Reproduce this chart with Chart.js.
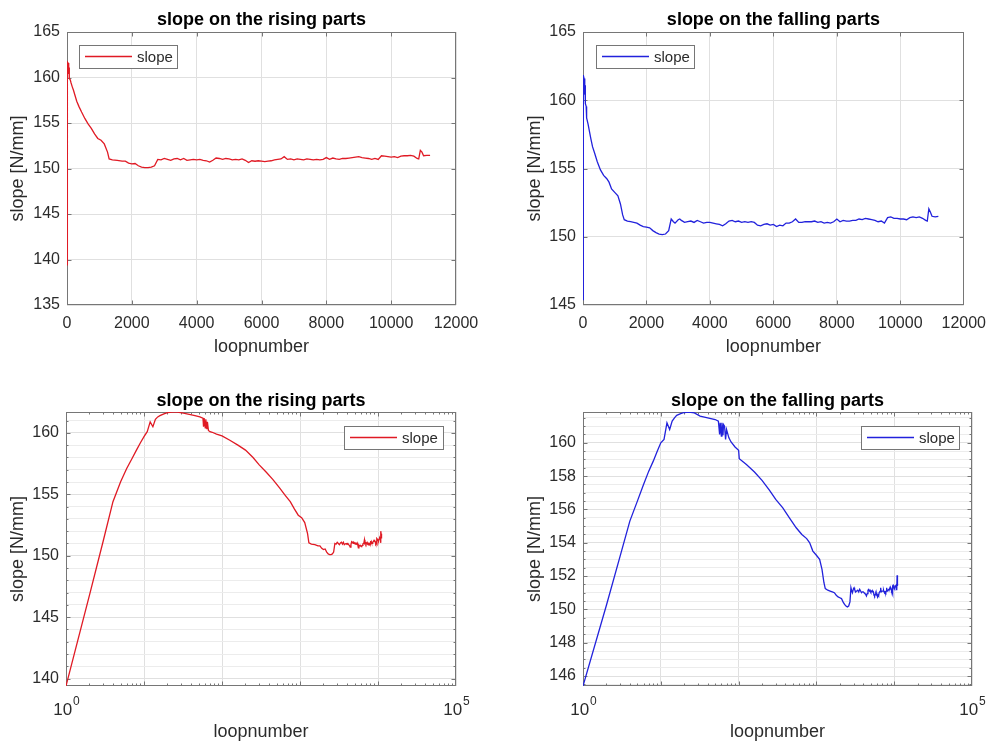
<!DOCTYPE html>
<html>
<head>
<meta charset="utf-8">
<script src="https://cdn.jsdelivr.net/npm/chart.js@4/dist/chart.umd.min.js"></script>
<style>
  html, body { margin: 0; padding: 0; background: #ffffff; }
  #wrap { position: relative; width: 995px; height: 743px; overflow: hidden; background: #ffffff; }
  canvas { position: absolute; }
</style>
</head>
<body>
<div id="wrap">
  <canvas id="riseLin"></canvas>
  <canvas id="fallLin"></canvas>
  <canvas id="riseLog"></canvas>
  <canvas id="fallLog"></canvas>
</div>
<script>
// ---- measured slope per loop, rising parts of the cycles ----
const risingLoops = [
  1, 2, 3, 4, 5, 6, 7, 8, 9, 10, 11, 12, 13, 14, 15, 16, 18, 20, 23, 27, 32, 38, 45, 52,
  57, 58, 59, 61, 62, 64, 65, 67, 70, 75, 85, 100, 126, 160, 200, 250, 300, 370, 450, 550,
  650, 750, 850, 950, 1050, 1150, 1250, 1300, 1400, 1550, 1700, 1800, 1900, 2000, 2100,
  2200, 2300, 2400, 2500, 2600, 2700, 2800, 2900, 3000, 3100, 3200, 3300, 3400, 3500, 3600,
  3700, 3800, 3900, 4000, 4100, 4200, 4300, 4400, 4500, 4600, 4700, 4800, 4900, 5000, 5100,
  5200, 5300, 5400, 5500, 5600, 5700, 5800, 5900, 6000, 6100, 6200, 6300, 6400, 6500, 6600,
  6700, 6800, 6900, 7000, 7100, 7200, 7300, 7400, 7500, 7600, 7700, 7800, 7900, 8000, 8100,
  8200, 8300, 8400, 8500, 8600, 8700, 8800, 8900, 9000, 9100, 9200, 9300, 9400, 9500, 9600,
  9700, 9800, 9900, 10000, 10100, 10200, 10300, 10400, 10500, 10600, 10700, 10800, 10850,
  10900, 10950, 11000, 11100, 11200
];
const risingSlope = [
  139.4, 146.8, 151.2, 154.4, 156.0, 157.1, 157.9, 158.6, 159.2, 159.7, 160.1, 160.9, 160.5,
  161.1, 161.3, 161.4, 161.55, 161.65, 161.7, 161.7, 161.6, 161.5, 161.4, 161.3,
  161.2, 160.5, 161.2, 160.4, 161.1, 160.3, 160.9, 160.2, 160.1, 160.05, 159.9, 159.75, 159.4,
  159.0, 158.6, 158.0, 157.4, 156.8, 156.2, 155.5, 154.9, 154.4, 153.8, 153.3, 153.1, 152.7,
  151.8, 151.05, 150.95, 150.9, 150.8, 150.8, 150.6, 150.5, 150.55, 150.3, 150.15, 150.1,
  150.1, 150.15, 150.3, 151.0, 150.95, 151.1, 151.0, 150.9, 151.05, 151.1, 150.95, 151.1,
  150.9, 150.95, 151.0, 150.95, 151.0, 150.9, 150.85, 150.7, 150.9, 151.15, 151.1, 151.0,
  151.1, 151.05, 150.95, 151.0, 150.95, 151.05, 150.9, 150.65, 150.85, 150.8, 150.85, 150.8,
  150.75, 150.8, 150.85, 150.95, 151.0, 151.05, 151.3, 151.0, 151.05, 150.95, 151.05, 151.0,
  150.95, 151.05, 151.0, 150.95, 151.0, 150.95, 151.0, 151.2, 151.0, 151.15, 151.05, 151.0,
  151.1, 151.1, 151.15, 151.2, 151.25, 151.3, 151.2, 151.15, 151.1, 151.0, 151.1, 151.0,
  151.4, 151.35, 151.3, 151.25, 151.3, 151.2, 151.35, 151.4, 151.4, 151.45, 151.35, 151.1,
  151.05, 152.0, 151.8, 151.4, 151.45, 151.45
];

// ---- measured slope per loop, falling parts of the cycles ----
const fallingLoops = [
  1, 2, 3, 4, 5, 6, 7, 8, 9, 10, 11, 12, 13, 14, 15, 16, 18, 20, 23, 27, 32, 40, 50, 55,
  57, 58, 60, 61, 63, 64, 66, 68, 70, 75, 80, 90, 100, 102, 126, 160, 200, 250, 300, 370,
  450, 550, 650, 750, 820, 900, 1000, 1100, 1180, 1250, 1300, 1400, 1500, 1600, 1700, 1800,
  1900, 2000, 2100, 2200, 2300, 2400, 2500, 2600, 2700, 2780, 2850, 2900, 3000, 3050, 3100,
  3200, 3300, 3400, 3500, 3600, 3700, 3800, 3900, 4000, 4100, 4200, 4300, 4400, 4500, 4600,
  4700, 4800, 4900, 5000, 5100, 5200, 5300, 5400, 5500, 5600, 5700, 5800, 5900, 6000, 6100,
  6200, 6300, 6400, 6500, 6600, 6700, 6800, 6900, 7000, 7100, 7200, 7300, 7400, 7500, 7600,
  7700, 7800, 7900, 8000, 8100, 8200, 8300, 8400, 8500, 8600, 8700, 8800, 8900, 9000, 9100,
  9200, 9300, 9400, 9500, 9600, 9700, 9800, 9900, 10000, 10100, 10200, 10300, 10400, 10500,
  10600, 10700, 10800, 10850, 10900, 10950, 11000, 11100, 11200
];
const fallingSlope = [
  145.4, 150.25, 153.2, 155.3, 156.5, 157.5, 158.3, 158.9, 159.5, 160.0, 160.2, 161.2, 160.8,
  161.3, 161.5, 161.65, 161.75, 161.82, 161.85, 161.8, 161.6, 161.5, 161.4, 161.3,
  160.5, 161.2, 160.4, 161.2, 160.45, 161.1, 161.0, 160.2, 160.8, 160.3, 160.05, 159.75,
  159.55, 159.05, 158.7, 158.25, 157.75, 157.15, 156.6, 156.1, 155.5, 154.9, 154.5, 154.25,
  154.0, 153.5, 153.25, 153.0, 152.4, 151.6, 151.25, 151.15, 151.1, 151.05, 151.0, 150.85,
  150.75, 150.7, 150.65, 150.45, 150.3, 150.2, 150.15, 150.2, 150.45, 151.3, 151.1, 151.0,
  151.25, 151.3, 151.2, 151.05, 151.1, 151.15, 151.05, 151.2, 151.1, 151.0, 151.05, 151.05,
  151.0, 150.95, 150.9, 150.8, 150.95, 151.15, 151.2, 151.1, 151.15, 151.05, 151.1, 151.05,
  151.1, 151.05, 150.85, 150.8, 150.9, 150.95, 150.85, 150.9, 150.75, 150.85, 150.8, 151.0,
  151.0, 151.1, 151.3, 151.05, 151.05, 151.1, 151.1, 151.1, 151.15, 151.05, 151.1, 151.0,
  151.05, 151.0, 151.1, 151.3, 151.1, 151.2, 151.15, 151.15, 151.2, 151.2, 151.3, 151.25,
  151.35, 151.3, 151.25, 151.2, 151.1, 151.15, 151.0, 151.4, 151.45, 151.35, 151.35, 151.3,
  151.3, 151.25, 151.4, 151.45, 151.4, 151.45, 151.35, 151.2, 151.15, 152.05, 151.8, 151.5,
  151.45, 151.5
];

// ---- axis ticks ----
const loopTicksLinear = [0, 2000, 4000, 6000, 8000, 10000, 12000];
const loopTicksLog = [1, 10, 100, 1000, 10000, 100000];
const loopLabelsLog = [1, 100000];
const riseTicksLinear = [135, 140, 145, 150, 155, 160, 165];
const fallTicksLinear = [145, 150, 155, 160, 165];
const riseTicksLog = [140, 145, 150, 155, 160];
const fallTicksLog = [146, 148, 150, 152, 154, 156, 158, 160];

const FONT = '"Liberation Sans", Arial, Helvetica, sans-serif';
const AXIS_COLOR = '#767676';
const TEXT_COLOR = '#2b2b2b';

// axes box and inward tick marks, drawn beneath the data line
const axesBox = {
  id: 'axesBox',
  beforeDatasetsDraw(chart, args, o) {
    const ctx = chart.ctx;
    const a = chart.chartArea;
    const xs = chart.scales.x, ys = chart.scales.y;
    const L = Math.round(a.left) + 0.5, R = Math.round(a.right) - 0.5;
    const T = Math.round(a.top) + 0.5, B = Math.round(a.bottom) - 0.5;
    ctx.save();
    ctx.strokeStyle = AXIS_COLOR;
    ctx.lineWidth = 1;
    ctx.beginPath();
    ys.ticks.forEach(t => {
      const major = o.yMajor.some(m => Math.abs(m - t.value) < 1e-6);
      const len = major ? 4 : 2;
      const py = Math.round(ys.getPixelForValue(t.value)) + 0.5;
      if (py < T || py > B) return;
      ctx.moveTo(L, py); ctx.lineTo(L + len, py);
      ctx.moveTo(R, py); ctx.lineTo(R - len, py);
    });
    let xMarks = [];
    if (o.logX) {
      for (let d = 0; d < 5; d++) {
        for (let k = 1; k < 10; k++) xMarks.push({ v: k * Math.pow(10, d), len: k === 1 ? 4 : 2 });
      }
      xMarks.push({ v: 1e5, len: 4 });
    } else {
      xMarks = loopTicksLinear.map(v => ({ v, len: 4 }));
    }
    xMarks.forEach(m => {
      const px = Math.round(xs.getPixelForValue(m.v)) + 0.5;
      if (px < L - 0.1 || px > R + 0.1) return;
      ctx.moveTo(px, B); ctx.lineTo(px, B - m.len);
      ctx.moveTo(px, T); ctx.lineTo(px, T + m.len);
    });
    ctx.stroke();
    ctx.strokeRect(L, T, R - L, B - T);
    ctx.restore();
  }
};

// titles, axis labels, power-of-ten labels and the legend
const decor = {
  id: 'decor',
  afterDraw(chart, args, o) {
    const ctx = chart.ctx;
    const a = chart.chartArea;
    const xs = chart.scales.x;
    const cx = (a.left + a.right) / 2;
    const cy = (a.top + a.bottom) / 2;
    ctx.save();

    ctx.fillStyle = '#000000';
    ctx.textAlign = 'center';
    ctx.textBaseline = 'middle';
    ctx.font = 'bold 18px ' + FONT;
    ctx.fillText(o.title, cx, o.titleY);

    ctx.fillStyle = TEXT_COLOR;
    ctx.font = '18px ' + FONT;
    ctx.fillText(o.xLabel, cx, o.xLabelY);
    ctx.save();
    ctx.translate(o.yLabelX, cy);
    ctx.rotate(-Math.PI / 2);
    ctx.fillText(o.yLabel, 0, 0);
    ctx.restore();

    if (o.logX) {
      loopLabelsLog.forEach(v => {
        const px = xs.getPixelForValue(v);
        const exp = String(Math.round(Math.log10(v)));
        ctx.font = '17px ' + FONT;
        const wBase = ctx.measureText('10').width;
        ctx.font = '12px ' + FONT;
        const wExp = ctx.measureText(exp).width;
        const x0 = px - (wBase + wExp) / 2;
        ctx.textAlign = 'left';
        ctx.font = '17px ' + FONT;
        ctx.fillText('10', x0, o.logLabelY);
        ctx.font = '12px ' + FONT;
        ctx.fillText(exp, x0 + wBase + 1, o.logLabelY - 8);
      });
    }

    const lg = o.legend;
    const label = chart.data.datasets[0].label;
    ctx.fillStyle = '#ffffff';
    ctx.fillRect(lg.x, lg.y, lg.w, lg.h);
    ctx.strokeStyle = AXIS_COLOR;
    ctx.lineWidth = 1;
    ctx.strokeRect(Math.round(lg.x) + 0.5, Math.round(lg.y) + 0.5, lg.w, lg.h);
    const ly = lg.y + lg.h / 2;
    // sample of the series line
    ctx.strokeStyle = o.lineColor;
    ctx.lineWidth = 1.3;
    ctx.beginPath();
    ctx.moveTo(lg.x + 6, ly); ctx.lineTo(lg.x + 53, ly);
    ctx.stroke();
    ctx.fillStyle = TEXT_COLOR;
    ctx.font = '15px ' + FONT;
    ctx.textAlign = 'left';
    ctx.textBaseline = 'middle';
    ctx.fillText(label, lg.x + 58, ly + 1);

    ctx.restore();
  }
};

function stepsBetween(lo, hi, step) {
  const out = [];
  for (let v = Math.ceil(lo / step - 1e-9) * step; v <= hi + 1e-9; v += step) {
    out.push(Math.round(v * 1000) / 1000);
  }
  return out;
}

function makeChart(id, cfg) {
  const canvas = document.getElementById(id);
  canvas.width = cfg.w;
  canvas.height = cfg.h;
  canvas.style.left = cfg.left + 'px';
  canvas.style.top = cfg.top + 'px';
  const a = cfg.area;
  const points = cfg.loops.map((x, i) => ({ x, y: cfg.values[i] }));
  const isMajorY = v => cfg.yMajor.some(m => Math.abs(m - v) < 1e-6);

  const xScale = cfg.logX ? {
    type: 'logarithmic', min: 1, max: 100000,
    afterBuildTicks: s => { s.ticks = loopTicksLog.map(v => ({ value: v })); },
    afterFit: s => { s.height = cfg.h - a.b; },
    grid: { color: '#e0e0e0', lineWidth: 1, drawTicks: false },
    border: { display: false },
    ticks: { display: false }
  } : {
    type: 'linear', min: 0, max: 12000,
    afterBuildTicks: s => { s.ticks = loopTicksLinear.map(v => ({ value: v })); },
    afterFit: s => { s.height = cfg.h - a.b; },
    grid: { color: '#e0e0e0', lineWidth: 1, drawTicks: false },
    border: { display: false },
    ticks: {
      font: { family: FONT, size: 16 }, color: TEXT_COLOR, padding: 9,
      maxRotation: 0, autoSkip: false, callback: v => String(v)
    }
  };

  const yValues = cfg.yMinor ? stepsBetween(cfg.yMin, cfg.yMax, cfg.yMinor) : cfg.yMajor.slice();
  const boxOpts = { yMajor: cfg.yMajor, logX: !!cfg.logX };

  return new Chart(canvas, {
    type: 'line',
    data: {
      datasets: [{
        label: 'slope',
        data: points,
        borderColor: cfg.color,
        borderWidth: 1.3,
        pointRadius: 0,
        tension: 0,
        fill: false
      }]
    },
    options: {
      responsive: false,
      animation: false,
      events: [],
      layout: { padding: { left: 0, top: a.t, right: cfg.w - a.r, bottom: 0 } },
      plugins: {
        legend: { display: false },
        title: { display: false },
        tooltip: { enabled: false },
        axesBox: boxOpts,
        decor: {
          title: cfg.title, titleY: cfg.titleY,
          xLabel: 'loopnumber', xLabelY: cfg.xLabelY,
          yLabel: 'slope [N/mm]', yLabelX: cfg.yLabelX,
          logX: !!cfg.logX, logLabelY: cfg.logLabelY,
          legend: cfg.legend, lineColor: cfg.color
        }
      },
      scales: {
        x: xScale,
        y: {
          type: 'linear', min: cfg.yMin, max: cfg.yMax,
          afterBuildTicks: s => { s.ticks = yValues.map(v => ({ value: v })); },
          afterFit: s => { s.width = a.l; },
          grid: {
            color: c => isMajorY(c.tick.value) ? '#e0e0e0' : '#ececec',
            lineWidth: 1, drawTicks: false
          },
          border: { display: false },
          ticks: {
            font: { family: FONT, size: 16 }, color: TEXT_COLOR, padding: 7,
            autoSkip: false, callback: v => isMajorY(v) ? String(v) : ''
          }
        }
      }
    },
    plugins: [axesBox, decor]
  });
}

const RED = '#e01a24';
const BLUE = '#2222dc';

makeChart('riseLin', {
  left: 0, top: 0, w: 497, h: 372,
  area: { l: 67, t: 32, r: 456, b: 305 },
  loops: risingLoops, values: risingSlope, color: RED,
  yMin: 135, yMax: 165, yMajor: riseTicksLinear,
  title: 'slope on the rising parts', titleY: 20, xLabelY: 347, yLabelX: 18,
  legend: { x: 79, y: 45, w: 98, h: 23 }
});

makeChart('fallLin', {
  left: 497, top: 0, w: 498, h: 372,
  area: { l: 86, t: 32, r: 475, b: 305 },
  loops: fallingLoops, values: fallingSlope, color: BLUE,
  yMin: 145, yMax: 165, yMajor: fallTicksLinear,
  title: 'slope on the falling parts', titleY: 20, xLabelY: 347, yLabelX: 38,
  legend: { x: 99, y: 45, w: 98, h: 23 }
});

// logarithmic views: the value axis spans exactly the measured range
makeChart('riseLog', {
  left: 0, top: 372, w: 497, h: 371,
  area: { l: 66, t: 40, r: 456, b: 314 },
  loops: risingLoops, values: risingSlope, color: RED, logX: true,
  yMin: Math.min(...risingSlope), yMax: Math.max(...risingSlope),
  yMajor: riseTicksLog, yMinor: 1,
  title: 'slope on the rising parts', titleY: 29, xLabelY: 360, yLabelX: 18, logLabelY: 338,
  legend: { x: 344, y: 54, w: 99, h: 23 }
});

makeChart('fallLog', {
  left: 497, top: 372, w: 498, h: 371,
  area: { l: 86, t: 40, r: 475, b: 314 },
  loops: fallingLoops, values: fallingSlope, color: BLUE, logX: true,
  yMin: Math.min(...fallingSlope), yMax: Math.max(...fallingSlope),
  yMajor: fallTicksLog, yMinor: 0.5,
  title: 'slope on the falling parts', titleY: 29, xLabelY: 360, yLabelX: 38, logLabelY: 338,
  legend: { x: 364, y: 54, w: 98, h: 23 }
});
</script>
</body>
</html>
